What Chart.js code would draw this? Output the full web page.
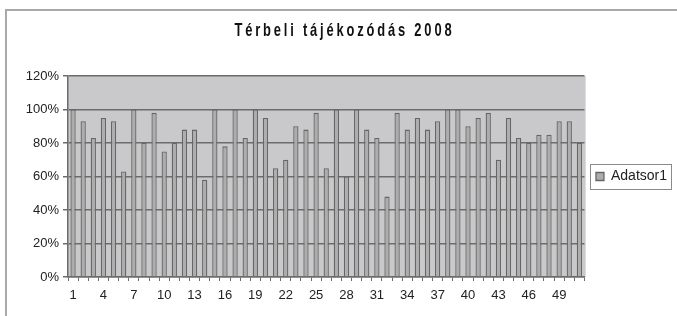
<!DOCTYPE html>
<html>
<head>
<meta charset="utf-8">
<script src="https://cdn.jsdelivr.net/npm/chart.js@4.4.1/dist/chart.umd.min.js"></script>
<style>
  html, body { margin: 0; padding: 0; background: #fff; }
  #wrap { position: relative; width: 677px; height: 316px; overflow: hidden; }
  #frame { position: absolute; left: 5px; top: 9px; width: 720px; height: 340px;
           border-left: 2px solid #a9a9a9; border-top: 2px solid #a9a9a9; }
  canvas { position: absolute; left: 0; top: 0; }
</style>
</head>
<body>
<div id="wrap">
  <div id="frame"></div>
  <canvas id="chart" width="677" height="316"></canvas>
</div>
<script>
// chart data
const chartTitle = "Térbeli tájékozódás 2008";
const seriesName = "Adatsor1";
const categories = [1, 2, 3, 4, 5, 6, 7, 8, 9, 10, 11, 12, 13, 14, 15, 16, 17,
  18, 19, 20, 21, 22, 23, 24, 25, 26, 27, 28, 29, 30, 31, 32, 33, 34, 35, 36,
  37, 38, 39, 40, 41, 42, 43, 44, 45, 46, 47, 48, 49, 50, 51];
const values = [100, 93, 83, 95, 93, 63, 100, 80, 98, 75, 80, 88, 88, 58, 100,
  78, 100, 83, 100, 95, 65, 70, 90, 88, 98, 65, 100, 60, 100, 88, 83, 48, 98,
  88, 95, 88, 93, 100, 100, 90, 95, 98, 70, 95, 83, 80, 85, 85, 93, 93, 80];
const yMin = 0;
const yMax = 120;
const yStep = 20;
const labelEvery = 3; // x labels 1, 4, 7, ...

const FONT = "'Liberation Sans', Arial, sans-serif";

// grey plot area behind the bars
const plotBackground = {
  id: "plotBackground",
  beforeDraw(chart) {
    const { ctx, chartArea: a } = chart;
    ctx.save();
    ctx.fillStyle = "#c9c9cb";
    ctx.fillRect(a.left, a.top, a.right - a.left, a.bottom - a.top);
    ctx.strokeStyle = "#b4b4b4";
    ctx.lineWidth = 1;
    ctx.beginPath();
    ctx.moveTo(a.right + 0.5, a.top);
    ctx.lineTo(a.right + 0.5, a.bottom);
    ctx.stroke();
    ctx.restore();
  }
};

// spaced-out, squeezed bold title
const spacedTitle = {
  id: "spacedTitle",
  afterDraw(chart) {
    const ctx = chart.ctx;
    const squeeze = 0.68;
    const targetWidth = 220;
    ctx.save();
    ctx.font = "bold 19px 'Liberation Sans', Arial, sans-serif";
    const w = ctx.measureText(chartTitle).width;
    const spacing = Math.max(0, (targetWidth / squeeze - w) / chartTitle.length);
    ctx.letterSpacing = spacing.toFixed(2) + "px";
    ctx.fillStyle = "#111";
    ctx.textAlign = "center";
    ctx.textBaseline = "middle";
    ctx.translate(343, 31);
    ctx.scale(squeeze, 1);
    ctx.fillText(chartTitle, spacing / 2, 0);
    ctx.restore();
  }
};

// frame around the legend item
const legendFrame = {
  id: "legendFrame",
  afterDraw(chart) {
    const box = chart.legend.legendHitBoxes[0];
    if (!box) return;
    const ctx = chart.ctx;
    ctx.save();
    ctx.strokeStyle = "#8a8a8a";
    ctx.lineWidth = 1;
    ctx.strokeRect(Math.round(box.left) - 5.5, Math.round(box.top) - 5.5,
      Math.round(box.width) + 10, Math.round(box.height) + 11);
    ctx.restore();
  }
};

const ctx = document.getElementById("chart").getContext("2d");
const chart = new Chart(ctx, {
  type: "bar",
  data: {
    labels: categories,
    datasets: [
      {
        label: seriesName,
        data: values,
        backgroundColor: "#adadad",
        borderColor: "#666666",
        borderWidth: 1.3,
        barPercentage: 0.52,
        categoryPercentage: 1.0,
      },
    ],
  },
  options: {
    responsive: false,
    animation: false,
    layout: { padding: { top: 76, left: 10, right: 0, bottom: 0 } },
    plugins: {
      title: { display: false },
      tooltip: { enabled: false },
      legend: {
        position: "right",
        fullSize: false,
        labels: {
          boxWidth: 8,
          boxHeight: 8,
          padding: 11.5,
          color: "#222",
          font: { family: FONT, size: 14 },
        },
      },
    },
    scales: {
      y: {
        min: yMin,
        max: yMax,
        ticks: {
          stepSize: yStep,
          color: "#222",
          padding: 4,
          font: { family: FONT, size: 13 },
          callback: (v) => v + "%",
        },
        grid: { color: "#6c6c6c", lineWidth: 1.5, tickLength: 5, tickColor: "#6c6c6c" },
        border: { color: "#6c6c6c", width: 1.5 },
        afterFit(scale) { scale.width = 58; },
      },
      x: {
        ticks: {
          autoSkip: false,
          maxRotation: 0,
          color: "#222",
          padding: 7,
          font: { family: FONT, size: 13 },
          callback: (v, i) => (i % labelEvery === 0 ? categories[i] : ""),
        },
        grid: { drawOnChartArea: false, tickLength: 4, color: "#6c6c6c" },
        border: { color: "#6c6c6c", width: 1.5 },
        afterFit(scale) { scale.height = 39; },
      },
    },
  },
  plugins: [plotBackground, spacedTitle, legendFrame],
});
</script>
</body>
</html>
